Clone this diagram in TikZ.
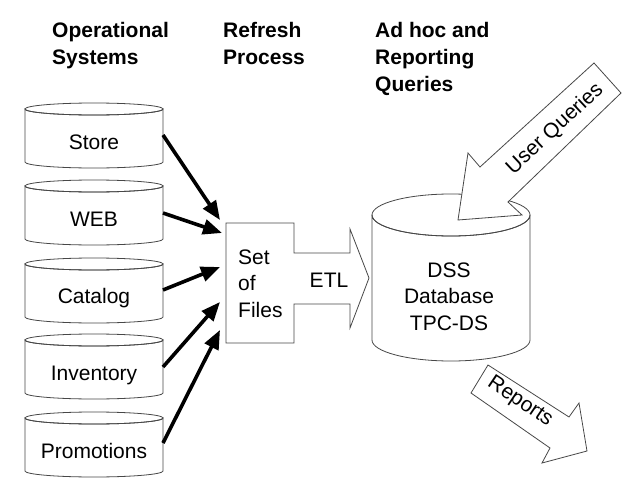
\documentclass[tikz,border=0pt]{standalone}
\usepackage{fontspec}
\setmainfont{Liberation Sans}
\usetikzlibrary{arrows.meta}
\newcommand\drawcyl[5]{%
  \path[outl, fill=white] (#1-#4,#2) -- (#1-#4,#3)
    arc[start angle=180, end angle=0, x radius=#4, y radius=#5]
    -- (#1+#4,#2)
    arc[start angle=0, end angle=180, x radius=#4, y radius=#5] -- cycle;
  \draw[outl] (#1,#2) ellipse[x radius=#4, y radius=#5];}
\begin{document}
\begin{tikzpicture}[x=1pt,y=-1pt,
  outl/.style={draw=black!72, line width=0.8pt},
  feed/.style={line width=3.6pt, -{Triangle[length=19pt,width=15pt]}},
  lbl/.style={font=\fontsize{21}{26.5}\selectfont, inner sep=0pt},
  hdr/.style={font=\fontsize{21}{27}\selectfont\bfseries, align=left, inner sep=0pt, anchor=north west}]
\useasboundingbox (0,0) rectangle (641,498);
\fill[white] (0,0) rectangle (641,498);

% headers
\node[hdr] (h1) at (52,22.5) {Operational\\Systems};
\node[hdr] (h2) at (223,22.5) {Refresh\\Process};
\node[hdr] (h3) at (375,22.5) {Ad hoc and\\Reporting\\Queries};

% operational system cylinders
\drawcyl{94}{109}{162}{69}{6}
\drawcyl{94}{186}{239}{69}{6}
\drawcyl{94}{264}{317}{69}{6}
\drawcyl{94}{340}{393}{69}{6}
\drawcyl{94}{418}{471}{69}{6}
\node[lbl, anchor=base] (store) at (94,149.5) {Store};
\node[lbl, anchor=base] (web) at (94,226) {WEB};
\node[lbl, anchor=base] (catalog) at (94,303.5) {Catalog};
\node[lbl, anchor=base] (inventory) at (94,380.5) {Inventory};
\node[lbl, anchor=base] (promotions) at (94,458.5) {Promotions};

% DSS database
\drawcyl{451}{215}{340}{79}{21}
\node[lbl, align=center, anchor=north] (dss) at (449,262.5) {DSS\\Database\\TPC-DS};

% set of files box with ETL arrow
\draw[outl, fill=white] (226,223) -- (294,223) -- (294,253) -- (350,253) -- (350,229)
  -- (369,278) -- (350,328) -- (350,304) -- (294,304) -- (294,343) -- (226,343) -- cycle;
\node[lbl, align=left, anchor=north west] (files) at (238,249.5) {Set\\of\\Files};
\node[lbl, anchor=base] (etl) at (329,287.5) {ETL};

% user queries arrow
\draw[outl, fill=white] (594,63) -- (621,93) -- (508,202) -- (522,215) -- (458,220)
  -- (468,153) -- (480,167) -- cycle;
\node[lbl, rotate=43] (uq) at (555,129) {User Queries};

% reports arrow
\draw[outl, fill=white] (488,365) -- (569,417) -- (579,403) -- (587,451) -- (542,463)
  -- (550,448) -- (471,393) -- cycle;
\node[lbl, rotate=-34] (rep) at (520,402) {Reports};

% feed arrows
\coordinate (s1) at (163,135); \coordinate (t1) at (220,220);
\coordinate (s2) at (163,213); \coordinate (t2) at (222,233);
\coordinate (s3) at (163,290); \coordinate (t3) at (220,267);
\coordinate (s4) at (163,367); \coordinate (t4) at (220,302);
\coordinate (s5) at (163,443); \coordinate (t5) at (220,330);
\draw[feed] (s1) -- (t1);
\draw[feed] (s2) -- (t2);
\draw[feed] (s3) -- (t3);
\draw[feed] (s4) -- (t4);
\draw[feed] (s5) -- (t5);
\end{tikzpicture}
\end{document}
